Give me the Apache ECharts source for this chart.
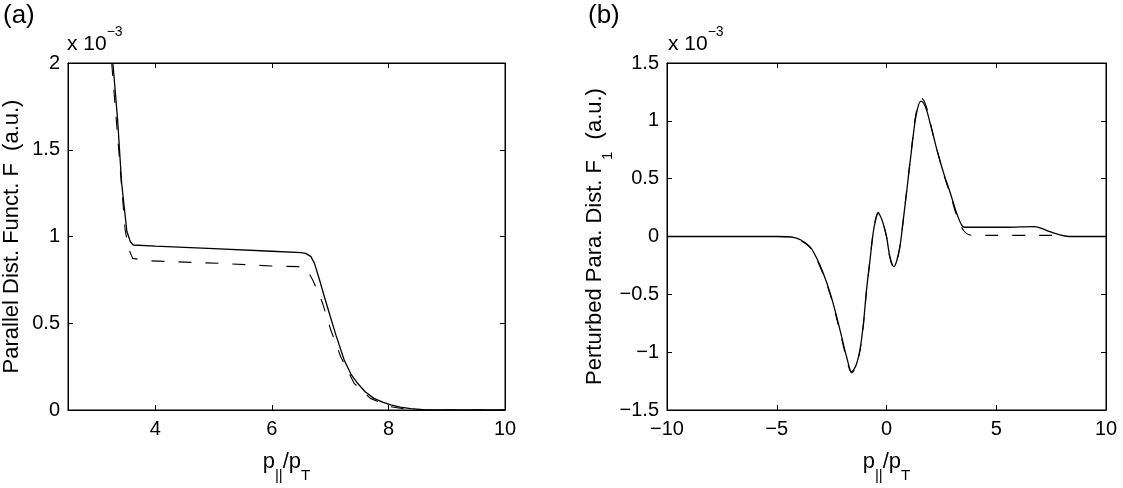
<!DOCTYPE html>
<html><head><meta charset="utf-8">
<script src="https://cdn.jsdelivr.net/npm/echarts@6/dist/echarts.min.js"></script>
<style>html,body{margin:0;padding:0;background:#fff}#c{width:1123px;height:488px}</style>
</head><body><div id="c"></div><script>
// Panel (a): parallel distribution function (units of 1e-3)
const aSolidX = [3.27,3.35,3.42,3.51,3.57,3.62,4.0,5.0,6.0,6.5,6.58,6.67,6.73,6.81,6.9,7.0,7.1,7.24,7.35,7.47,7.6,7.75,7.9,8.04,8.2,8.38,8.6,9.0,10];
const aSolidY = [2.0,1.68,1.31,1.03,0.97,0.951,0.945,0.93,0.915,0.907,0.903,0.884,0.845,0.758,0.653,0.54,0.43,0.288,0.21,0.154,0.105,0.067,0.045,0.029,0.017,0.008,0.002,0,0];
const aDashX = [3.25,3.37,3.48,3.54,3.61,3.88,5.13,6.0,6.5,6.6,6.7,6.78,6.87,7.01,7.18,7.41,7.69,8.04,8.3,8.6,10];
const aDashY = [2.0,1.50,1.04,0.93,0.874,0.86,0.845,0.83,0.826,0.81,0.749,0.69,0.615,0.461,0.307,0.154,0.067,0.019,0.005,0,0];
// Panel (b): perturbed parallel distribution (units of 1e-3)
const bSolidX = [-10,-5,-4.5,-4.24,-3.9,-3.49,-3.2,-2.88,-2.55,-2.27,-2.0,-1.82,-1.59,-1.4,-1.21,-1.05,-0.91,-0.75,-0.61,-0.5,-0.38,-0.2,0.0,0.15,0.33,0.45,0.61,0.75,0.91,1.14,1.35,1.57,1.7,1.85,2.0,2.15,2.3,2.6,2.91,3.2,3.42,3.55,4.5,5.5,6.68,7.0,7.4,7.9,8.3,10];
const bSolidY = [0,0,-0.002,-0.007,-0.03,-0.088,-0.18,-0.318,-0.5,-0.693,-0.9,-1.039,-1.169,-1.12,-0.981,-0.75,-0.462,-0.2,0.028,0.14,0.2,0.14,0,-0.17,-0.26,-0.22,-0.088,0.12,0.374,0.748,1.05,1.17,1.15,1.08,0.97,0.86,0.748,0.55,0.374,0.2,0.1,0.08,0.08,0.08,0.085,0.075,0.045,0.013,0,0];
const bDashX = [-10,-5,-4.5,-4.24,-3.9,-3.49,-3.2,-2.88,-2.55,-2.27,-2.0,-1.82,-1.59,-1.4,-1.21,-1.05,-0.91,-0.75,-0.61,-0.5,-0.38,-0.2,0.0,0.15,0.33,0.45,0.61,0.75,0.91,1.14,1.35,1.6,1.72,1.87,2.0,2.15,2.3,2.6,2.91,3.2,3.52,3.9,5.0,6.5,7.5,8.0,10];
const bDashY = [0,0,-0.002,-0.01,-0.035,-0.095,-0.19,-0.33,-0.51,-0.71,-0.92,-1.06,-1.18,-1.13,-0.99,-0.76,-0.47,-0.2,0.03,0.15,0.21,0.14,0,-0.18,-0.27,-0.23,-0.09,0.12,0.38,0.76,1.07,1.195,1.17,1.09,0.98,0.86,0.75,0.54,0.36,0.18,0.05,0.01,0.01,0.01,0.01,0,0];
const aXTicks = [4,6,8,10];

const zip = (xs, ys) => xs.map((x, i) => [x, ys[i]]);
const FONT = 'Liberation Sans';
const fmt = v => (v < 0 ? '\u2212' + Math.abs(v) : String(v));
const lbl = {color:'#000', fontFamily:FONT, fontSize:20, margin:9};
const tick = {show:true, inside:true, length:5, lineStyle:{color:'#000', width:1}};
const sub = {
  n:{fontFamily:FONT, fontSize:22, color:'#000', lineHeight:22, verticalAlign:'top'},
  s:{fontFamily:FONT, fontSize:15, color:'#000', lineHeight:32, verticalAlign:'bottom'}
};
const sup = {
  n:{fontFamily:FONT, fontSize:21, color:'#000', lineHeight:30, verticalAlign:'bottom'},
  p:{fontFamily:FONT, fontSize:14, color:'#000', lineHeight:14, verticalAlign:'top'}
};
const xName = '{n|p}{s|||}{n|/p}{s|T}';

function xAx(grid, min, max, extra, top) {
  return Object.assign({
    type:'value', gridIndex:grid, min, max, position: top ? 'top' : 'bottom',
    axisLine:{show:true, onZero:false, lineStyle:{color:'#000', width:1}},
    axisTick:Object.assign({}, tick), splitLine:{show:false},
    axisLabel:Object.assign({show:!top, formatter:fmt}, lbl)
  }, extra);
}
function yAx(grid, min, max, interval, right, name, gap) {
  const o = {
    type:'value', gridIndex:grid, min, max, interval, position: right ? 'right' : 'left',
    axisLine:{show:true, onZero:false, lineStyle:{color:'#000', width:1}},
    axisTick:Object.assign({}, tick), splitLine:{show:false},
    axisLabel:Object.assign({show:!right, formatter:fmt}, lbl, {margin:8})
  };
  if (name) {
    o.name = name; o.nameLocation = 'middle'; o.nameGap = gap;
    o.nameTextStyle = {rich: sub};
  }
  return o;
}

const aTickX = {axisTick:Object.assign({}, tick, {customValues:aXTicks}),
  axisLabel:Object.assign({customValues:aXTicks, formatter:fmt}, lbl)};
const aTickXTop = {axisTick:Object.assign({}, tick, {customValues:aXTicks}),
  axisLabel:Object.assign({show:false, customValues:aXTicks}, lbl)};

const option = {
  backgroundColor:'#fff',
  animation:false,
  grid:[
    {left:66, right:618, top:63, bottom:78, show:true, borderColor:'#000', borderWidth:1},
    {left:667, right:17, top:63, bottom:78, show:true, borderColor:'#000', borderWidth:1}
  ],
  xAxis:[
    Object.assign(xAx(0, 2.5, 10, {}, false), aTickX, {name:xName, nameLocation:'middle', nameGap:41, nameTextStyle:{rich:sub}}),
    Object.assign(xAx(0, 2.5, 10, {}, true), aTickXTop),
    xAx(1, -10, 10, {interval:5, name:xName, nameLocation:'middle', nameGap:41, nameTextStyle:{rich:sub}}, false),
    xAx(1, -10, 10, {interval:5}, true)
  ],
  yAxis:[
    yAx(0, 0, 2, 0.5, false, '{n|Parallel Dist. Funct. F  (a.u.)}', 45),
    yAx(0, 0, 2, 0.5, true),
    yAx(1, -1.5, 1.5, 0.5, false, '{n|Perturbed Para. Dist. F}{s|1}{n|  (a.u.)}', 50),
    yAx(1, -1.5, 1.5, 0.5, true)
  ],
  graphic:[
    {type:'text', left:3, top:3, style:{text:'(a)', font:'26px "Liberation Sans"', fill:'#000'}},
    {type:'text', left:588, top:3, style:{text:'(b)', font:'26px "Liberation Sans"', fill:'#000'}},
    {type:'text', left:67, top:25, style:{text:'{n|x 10}{p|\u22123}', rich:sup}},
    {type:'text', left:668, top:25, style:{text:'{n|x 10}{p|\u22123}', rich:sup}}
  ],
  series:[
    {type:'line', xAxisIndex:0, yAxisIndex:0, data:zip(aDashX, aDashY), showSymbol:false, symbol:'none', clip:true,
      lineStyle:{color:'#000', width:1.1, type:[13,14]}},
    {type:'line', xAxisIndex:0, yAxisIndex:0, data:zip(aSolidX, aSolidY), showSymbol:false, symbol:'none', clip:true,
      lineStyle:{color:'#000', width:1.3}},
    {type:'line', xAxisIndex:2, yAxisIndex:2, data:zip(bDashX, bDashY), showSymbol:false, symbol:'none', clip:true, smooth:0.3,
      lineStyle:{color:'#000', width:1.1, type:[13,14]}},
    {type:'line', xAxisIndex:2, yAxisIndex:2, data:zip(bSolidX, bSolidY), showSymbol:false, symbol:'none', clip:true, smooth:0.3,
      lineStyle:{color:'#000', width:1.3}}
  ]
};
const chart = echarts.init(document.getElementById('c'), null, {renderer:'canvas'});
chart.setOption(option);
</script></body></html>
